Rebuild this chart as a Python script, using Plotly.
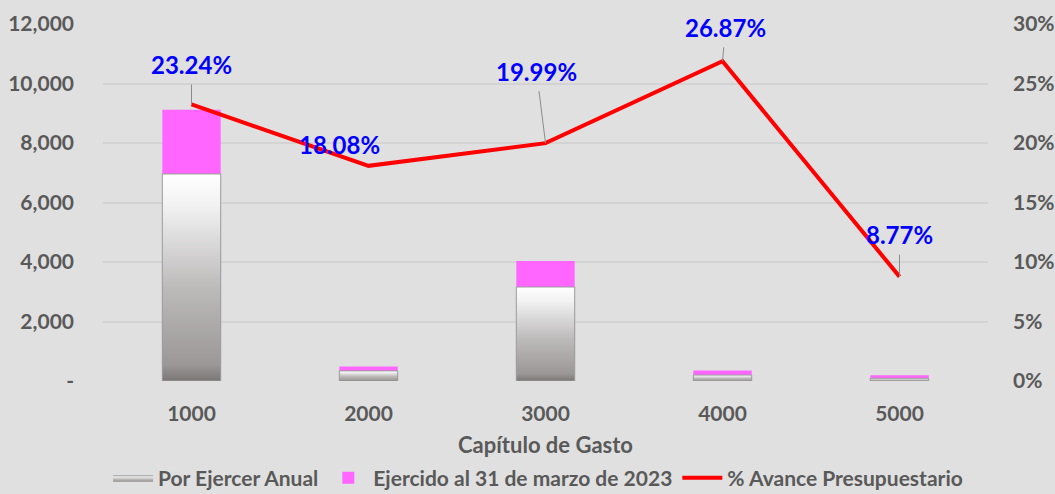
import plotly.graph_objects as go

categorias = ["1000", "2000", "3000", "4000", "5000"]
por_ejercer = [6960, 340, 3160, 200, 90]
ejercido = [2160, 150, 870, 150, 100]
avance = [0.2324, 0.1808, 0.1999, 0.2687, 0.0877]
avance_txt = ["23.24%", "18.08%", "19.99%", "26.87%", "8.77%"]
y_ticks = [0, 2000, 4000, 6000, 8000, 10000, 12000]
y_ticktext = ["-", "2,000", "4,000", "6,000", "8,000", "10,000", "12,000"]

FONT = "Lato"
TICK_COLOR = "#595959"
BAR_W = 0.33
idx = list(range(len(categorias)))

fig = go.Figure()

grad = dict(type="vertical",
            colorscale=[[0, "#7a7676"], [0.08, "#9c9898"], [0.45, "#bdbaba"],
                        [0.85, "#f2f2f2"], [1, "#ffffff"]])
for i, v in zip(idx, por_ejercer):
    fig.add_trace(go.Scatter(
        x=[i - BAR_W / 2, i + BAR_W / 2, i + BAR_W / 2, i - BAR_W / 2, i - BAR_W / 2],
        y=[0, 0, v, v, 0],
        mode="lines", fill="toself", fillgradient=grad,
        line=dict(color="#9a9a9a", width=1),
        name="Por Ejercer Anual", legendgroup="pe", showlegend=(i == 0),
        hoverinfo="skip"))

fig.add_trace(go.Bar(x=idx, y=ejercido, base=por_ejercer, width=BAR_W,
                     marker=dict(color="#ff66ff", line=dict(width=0)),
                     name="Ejercido al 31 de marzo de 2023"))

fig.add_trace(go.Scatter(x=idx, y=avance, yaxis="y2", mode="lines",
                         line=dict(color="#ff0000", width=4),
                         name="% Avance Presupuestario"))

# label offsets (pixels) relative to each point: (ax, ay, leader)
offsets = [(0, -40, True), (-29, -21, False), (-9, -72, True), (3, -34, True), (0, -42, True)]
for i, (t, v, (ax, ay, lead)) in enumerate(zip(avance_txt, avance, offsets)):
    if lead:
        fig.add_annotation(x=i, y=v, xref="x", yref="y2", text=t, showarrow=True,
                           ax=ax, ay=ay, arrowhead=0, arrowwidth=1, arrowcolor="#8c8c8c",
                           startstandoff=4,
                           font=dict(family=FONT, size=24, color="#0000ff", weight="bold"))
    else:
        fig.add_annotation(x=i, y=v, xref="x", yref="y2", text=t, showarrow=False,
                           xshift=ax, yshift=-ay,
                           font=dict(family=FONT, size=24, color="#0000ff", weight="bold"))

fig.update_layout(
    width=1055, height=494,
    margin=dict(l=103, r=67, t=24, b=113, autoexpand=False),
    paper_bgcolor="#e0e0e0", plot_bgcolor="#e0e0e0",
    barmode="overlay",
    font=dict(family=FONT, color=TICK_COLOR),
    xaxis=dict(range=[-0.5, 4.5], tickvals=idx, ticktext=categorias,
               showgrid=False, zeroline=False, showline=False, ticks="",
               ticklabelstandoff=18, automargin=False,
               tickfont=dict(family=FONT, size=21, color=TICK_COLOR, weight="bold"),
               title=dict(text="Capítulo de Gasto", standoff=22,
                          font=dict(family=FONT, size=22, color=TICK_COLOR, weight="bold"))),
    yaxis=dict(range=[0, 12000], tickvals=y_ticks, ticktext=y_ticktext,
               showgrid=True, gridcolor="#d3d3d3", gridwidth=1.5, zeroline=False,
               ticks="", ticklabelstandoff=28, automargin=False,
               tickfont=dict(family=FONT, size=21, color=TICK_COLOR, weight="bold")),
    yaxis2=dict(range=[0, 0.30], dtick=0.05, tickformat=".0%", overlaying="y",
                side="right", showgrid=False, zeroline=False, ticks="",
                ticklabelstandoff=24, automargin=False,
                tickfont=dict(family=FONT, size=21, color=TICK_COLOR, weight="bold")),
    legend=dict(orientation="h", xref="container", yref="container",
                x=0.51, xanchor="center", y=0.032, yanchor="middle",
                font=dict(family=FONT, size=21, color=TICK_COLOR, weight="bold"),
                bgcolor="rgba(0,0,0,0)", traceorder="normal", itemwidth=40),
    showlegend=True,
)

fig.write_html("out.html", config={"displayModeBar": False},
               post_script="document.body.style.margin='0';document.body.style.overflow='hidden';")
